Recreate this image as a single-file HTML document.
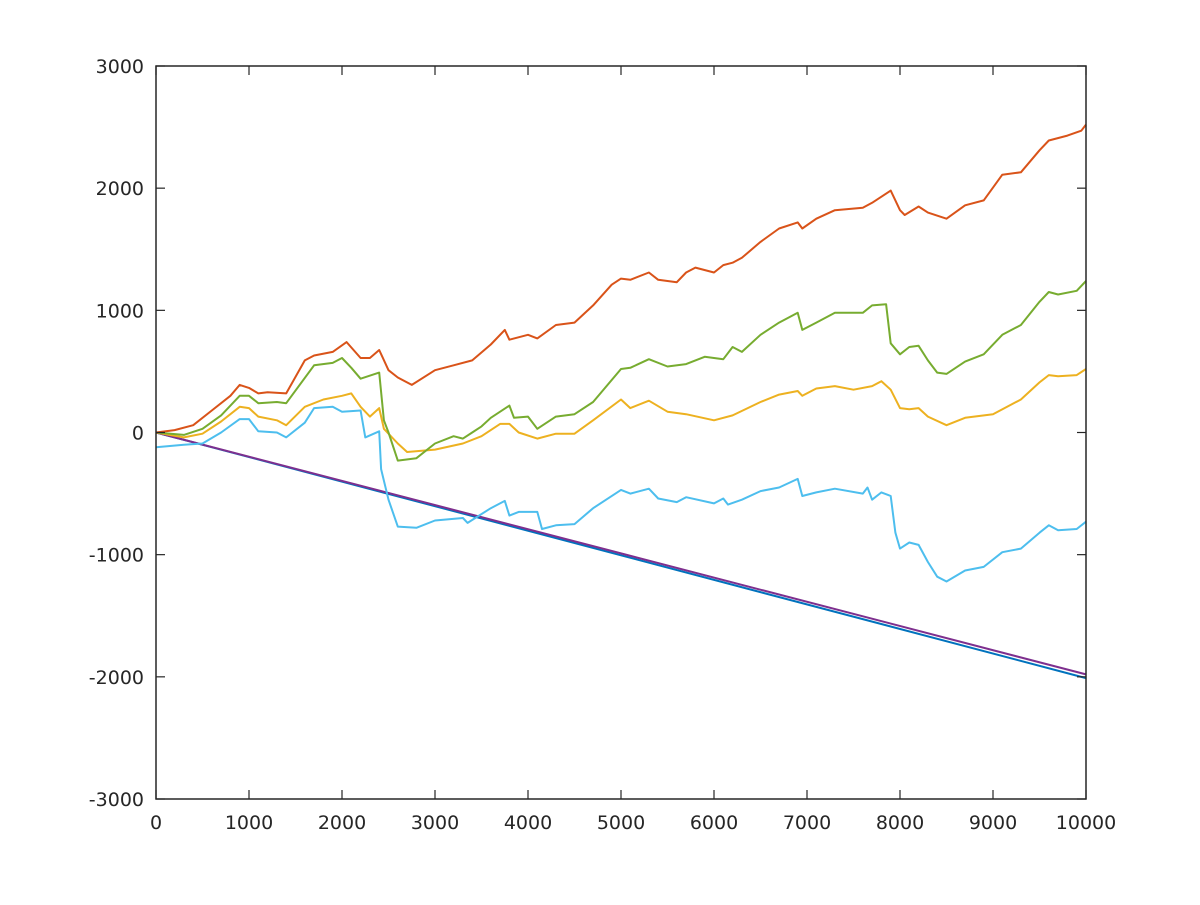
<!DOCTYPE html>
<html><head><meta charset="utf-8">
<style>
html,body{margin:0;padding:0;background:#fff;}
svg text{font-family:"DejaVu Sans","Liberation Sans",sans-serif;font-size:19px;fill:#262626;}
</style></head>
<body>
<svg id="chart" width="1200" height="900" xmlns="http://www.w3.org/2000/svg">
<rect width="1200" height="900" fill="#fff"/>
<g id="plot"></g>
<g id="axes"></g>
</svg>
<script>
const xTicks=[0,1000,2000,3000,4000,5000,6000,7000,8000,9000,10000];
const yTicks=[-3000,-2000,-1000,0,1000,2000,3000];
const redX=[0,200,400,600,800,900,1000,1100,1200,1400,1600,1700,1900,2050,2200,2300,2400,2500,2600,2750,3000,3200,3400,3600,3750,3800,4000,4100,4300,4500,4700,4900,5000,5100,5300,5400,5600,5700,5800,6000,6100,6200,6300,6500,6700,6900,6950,7100,7300,7600,7700,7900,8000,8050,8200,8300,8500,8700,8900,9100,9300,9500,9600,9800,9950,10000];
const redY=[0,20,60,180,300,390,365,320,330,320,590,630,660,740,610,610,675,510,450,390,510,550,590,720,840,760,800,770,880,900,1040,1210,1260,1250,1310,1250,1230,1310,1350,1310,1370,1390,1430,1560,1670,1720,1670,1750,1820,1840,1880,1980,1820,1780,1850,1800,1750,1860,1900,2110,2130,2310,2390,2430,2470,2520];
const greenX=[0,300,500,700,900,1000,1100,1300,1400,1700,1900,2000,2100,2200,2400,2450,2500,2600,2800,3000,3200,3300,3400,3500,3600,3800,3850,4000,4100,4300,4500,4700,5000,5100,5300,5500,5700,5900,6100,6200,6300,6500,6700,6900,6950,7100,7300,7600,7700,7850,7900,8000,8100,8200,8300,8400,8500,8700,8900,9100,9300,9500,9600,9700,9900,10000];
const greenY=[0,-20,30,140,300,300,240,250,240,550,570,610,530,440,490,100,0,-230,-210,-90,-30,-50,0,50,120,220,120,130,30,130,150,250,520,530,600,540,560,620,600,700,660,800,900,980,840,900,980,980,1040,1050,730,640,700,710,590,490,480,580,640,800,880,1070,1150,1130,1160,1240];
const yellowX=[0,300,500,700,900,1000,1100,1300,1400,1600,1800,2000,2100,2200,2300,2400,2450,2600,2700,3000,3300,3500,3700,3800,3900,4100,4300,4500,4700,5000,5100,5300,5500,5700,6000,6200,6500,6700,6900,6950,7100,7300,7500,7700,7800,7900,8000,8100,8200,8300,8500,8700,9000,9300,9500,9600,9700,9900,10000];
const yellowY=[0,-40,-10,90,210,200,130,100,60,210,270,300,320,210,130,200,30,-90,-160,-140,-90,-30,70,70,0,-50,-10,-10,100,270,200,260,170,150,100,140,250,310,340,300,360,380,350,380,420,350,200,190,200,130,60,120,150,270,410,470,460,470,520];
const cyanX=[0,300,500,700,900,1000,1100,1300,1400,1600,1700,1900,2000,2200,2250,2400,2420,2500,2600,2800,3000,3300,3350,3600,3750,3800,3900,4100,4150,4300,4500,4700,5000,5100,5300,5400,5600,5700,6000,6100,6150,6300,6500,6700,6900,6950,7100,7300,7600,7650,7700,7800,7900,7950,8000,8100,8200,8300,8400,8500,8700,8900,9100,9300,9500,9600,9700,9900,10000];
const cyanY=[-120,-100,-90,0,110,110,10,0,-40,80,200,210,170,180,-40,10,-300,-550,-770,-780,-720,-700,-740,-620,-560,-680,-650,-650,-790,-760,-750,-620,-470,-500,-460,-540,-570,-530,-580,-540,-590,-550,-480,-450,-380,-520,-490,-460,-500,-450,-550,-490,-520,-820,-950,-900,-920,-1060,-1180,-1220,-1130,-1100,-980,-950,-820,-760,-800,-790,-730];
const blueX=[0,5000,10000];
const blueY=[0,-1005,-2010];
const purpleX=[0,5000,10000];
const purpleY=[0,-990,-1980];

const L=156,R=1086,T=66,B=799;
const sx=v=>L+(v-0)/10000*(R-L);
const sy=v=>B-(v+3000)/6000*(B-T);
const NS="http://www.w3.org/2000/svg";
const plot=document.getElementById('plot');
const axes=document.getElementById('axes');
function line(xs,ys,color,name){
  const p=document.createElementNS(NS,'polyline');
  p.setAttribute('points',xs.map((x,i)=>sx(x).toFixed(1)+','+sy(ys[i]).toFixed(1)).join(' '));
  p.setAttribute('fill','none');p.setAttribute('stroke',color);p.setAttribute('stroke-width','2');
  p.setAttribute('stroke-linejoin','round');
  
  
  plot.appendChild(p);
}
line(blueX,blueY,'#0072BD','series-blue-line');
line(purpleX,purpleY,'#7E2F8E','series-purple-line');
line(cyanX,cyanY,'#4DBEEE','series-cyan-line');
line(yellowX,yellowY,'#EDB120','series-yellow-line');
line(greenX,greenY,'#77AC30','series-green-line');
line(redX,redY,'#D95319','series-red-line');

const box=document.createElementNS(NS,'rect');
box.setAttribute('x',L);box.setAttribute('y',T);box.setAttribute('width',R-L);box.setAttribute('height',B-T);
box.setAttribute('fill','none');box.setAttribute('stroke','#262626');box.setAttribute('stroke-width','1.5');


axes.appendChild(box);
function tk(x1,y1,x2,y2){const l=document.createElementNS(NS,'line');l.setAttribute('x1',x1);l.setAttribute('y1',y1);l.setAttribute('x2',x2);l.setAttribute('y2',y2);l.setAttribute('stroke','#262626');l.setAttribute('stroke-width','1.2');


axes.appendChild(l);}
xTicks.forEach(v=>{const x=sx(v);tk(x,B,x,B-9);tk(x,T,x,T+9);
 const t=document.createElementNS(NS,'text');t.setAttribute('x',x);t.setAttribute('y',B+30);t.setAttribute('text-anchor','middle');t.textContent=v;
 
 
 axes.appendChild(t);});
yTicks.forEach(v=>{const y=sy(v);tk(L,y,L+9,y);tk(R,y,R-9,y);
 const t=document.createElementNS(NS,'text');t.setAttribute('x',L-12);t.setAttribute('y',y+7);t.setAttribute('text-anchor','end');t.textContent=v;
 
 
 axes.appendChild(t);});
</script>
</body></html>
